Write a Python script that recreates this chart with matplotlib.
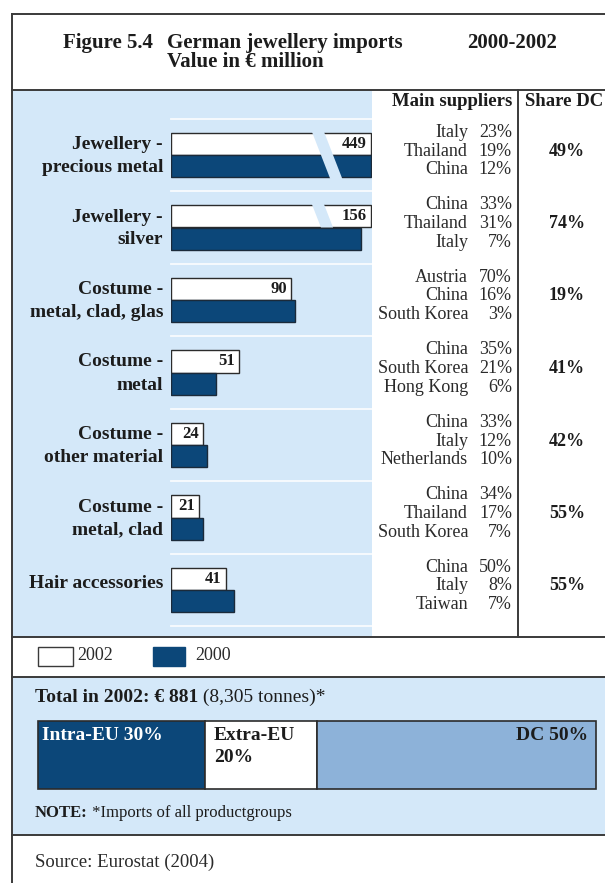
"""German jewellery imports 2000-2002, value in EUR million, with main suppliers."""

import numpy as np
import matplotlib
matplotlib.use('Agg')
from matplotlib import pyplot as plt
from matplotlib.patches import Rectangle, Polygon

plt.rcParams['font.family'] = ['Liberation Serif', 'DejaVu Serif']

categories = ['Jewellery -\nprecious metal', 'Jewellery -\nsilver',
              'Costume -\nmetal, clad, glas', 'Costume -\nmetal',
              'Costume -\nother material', 'Costume -\nmetal, clad',
              'Hair accessories']
imports_2002 = [449, 156, 90, 51, 24, 21, 41]
imports_2000 = [430, 142, 93, 34, 27, 24, 47]
supplier_names = [['Italy', 'Thailand', 'China'],
                  ['China', 'Thailand', 'Italy'],
                  ['Austria', 'China', 'South Korea'],
                  ['China', 'South Korea', 'Hong Kong'],
                  ['China', 'Italy', 'Netherlands'],
                  ['China', 'Thailand', 'South Korea'],
                  ['China', 'Italy', 'Taiwan']]
supplier_shares = [['23%', '19%', '12%'],
                   ['33%', '31%', '7%'],
                   ['70%', '16%', '3%'],
                   ['35%', '21%', '6%'],
                   ['33%', '12%', '10%'],
                   ['34%', '17%', '7%'],
                   ['50%', '8%', '7%']]
share_dc = ['49%', '74%', '19%', '41%', '42%', '55%', '55%']
origin_labels = ['Intra-EU 30%', 'Extra-EU\n20%', 'DC 50%']
origin_shares = [30, 20, 50]

navy = '#0c4779'
panel = '#d4e8f9'
dc_blue = '#8db2d9'
line_c = '#3a3a3a'
ink = '#1c1c1c'

W, H = 605, 883
fig = plt.figure(figsize=(W / 100, H / 100), dpi=100)
ax = fig.add_axes([0, 0, 1, 1])
ax.set_xlim(0, W)
ax.set_ylim(H, 0)
ax.axis('off')


def px_axes(x0, y0, x1, y1):
    """Axes placed by pixel box (top-left origin)."""
    a = fig.add_axes([x0 / W, 1 - y1 / H, (x1 - x0) / W, (y1 - y0) / H])
    a.patch.set_visible(False)
    a.axis('off')
    return a


# background panels and frame
ax.add_patch(Rectangle((12, 89.5), 360, 547, fc=panel, ec='none'))
ax.add_patch(Rectangle((12, 676.5), W - 12, 158.5, fc=panel, ec='none'))
for y in (13.5, 89.5, 636.5, 676.5, 835):
    ax.plot([12, W], [y, y], color=line_c, lw=1.4)
ax.plot([12, 12], [13.5, H], color=line_c, lw=1.4)
ax.plot([518, 518], [89.5, 636.5], color=line_c, lw=1.4)

# header
ax.text(63, 43, 'Figure 5.4', fontsize=15, fontweight='bold', va='center', color=ink)
ax.text(167, 43, 'German jewellery imports', fontsize=15, fontweight='bold',
        va='center', color=ink)
ax.text(167, 62, 'Value in € million', fontsize=15, fontweight='bold',
        va='center', color=ink)
ax.text(467, 43, '2000-2002', fontsize=15, fontweight='bold', va='center', color=ink)
ax.text(392, 101, 'Main suppliers', fontsize=13.5, fontweight='bold', va='center', color=ink)
ax.text(525, 101, 'Share DC', fontsize=13.5, fontweight='bold', va='center', color=ink)

# paired bars
n = len(categories)
row_top, row_h = 118.75, 72.5
bx = px_axes(170.5, row_top, 372, row_top + n * row_h)
bx.set_xlim(0, 150)
bx.set_ylim(n - 0.5, -0.5)
cap = 149.3
h = 0.31
pos = np.arange(n)
for k in range(n + 1):
    bx.axhline(k - 0.5, color='white', lw=1.3, alpha=0.85, clip_on=False)
bx.barh(pos - h / 2, np.minimum(imports_2002, cap), height=h, color='white',
        edgecolor='#2b2b2b', lw=1.0, zorder=2)
bx.barh(pos + h / 2, np.minimum(imports_2000, cap), height=h, color=navy,
        edgecolor='#1b2a3a', lw=1.0, zorder=2)

for i in range(n):
    v = imports_2002[i]
    bx.annotate(str(v), xy=(min(v, cap), i - h / 2), xytext=(-4, 0),
                textcoords='offset pixels', ha='right', va='center',
                fontsize=12, fontweight='bold', color=ink, zorder=5)
    # break mark on bars that run past the scale
    top_cut = imports_2002[i] > cap
    bot_cut = imports_2000[i] > cap
    if top_cut or bot_cut:
        ya = i - h - 0.03 if top_cut else i
        yb = i + h + 0.03 if bot_cut else i
        xl = lambda y: 112 + 21 * (y - i)
        bx.add_patch(Polygon([(xl(ya), ya), (xl(ya) + 9, ya),
                              (xl(yb) + 9, yb), (xl(yb), yb)],
                             fc=panel, ec='none', zorder=4))

# row labels, suppliers and DC share
for i in range(n):
    yc = row_top + (i + 0.5) * row_h
    lines = categories[i].split('\n')
    ys = [yc - 10.5, yc + 12.5] if len(lines) == 2 else [yc - 7]
    for line, y in zip(lines, ys):
        ax.text(163, y, line, ha='right', va='center', fontsize=14,
                fontweight='bold', color=ink)
    for k in range(3):
        y = yc - 4 + (k - 1) * 18.7
        ax.text(468, y, supplier_names[i][k], ha='right', va='center',
                fontsize=13, color='#2a2a2a')
        ax.text(512, y, supplier_shares[i][k], ha='right', va='center',
                fontsize=13, color='#2a2a2a')
    ax.text(567, yc - 4, share_dc[i], ha='center', va='center', fontsize=13,
            fontweight='bold', color=ink)

# legend
ax.add_patch(Rectangle((37.5, 647), 35, 19, fc='white', ec=line_c, lw=1.0))
ax.text(77, 656, '2002', fontsize=13, va='center', color='#2a2a2a')
ax.add_patch(Rectangle((153, 647), 32, 19, fc=navy, ec=navy, lw=1.0))
ax.text(195, 656, '2000', fontsize=13, va='center', color='#2a2a2a')

# total imports by origin
t1 = ax.text(35, 697, 'Total in 2002: € 881', fontsize=14, fontweight='bold',
             va='center', color=ink)
ax.annotate(' (8,305 tonnes)*', xy=(1, 0), xycoords=t1, va='bottom', ha='left',
            fontsize=14, color=ink)

sx = px_axes(37.5, 720.5, 596, 789)
sx.set_xlim(0, 100)
sx.set_ylim(-0.5, 0.5)
lefts = np.cumsum([0] + origin_shares[:-1])
bars = sx.barh(0, origin_shares, left=lefts, height=1,
               color=[navy, 'white', dc_blue], edgecolor='#2b2b2b', lw=1.2)
for b in bars:
    b.set_clip_on(False)
text_cols = ['white', ink, ink]
aligns = ['left', 'left', 'right']
pads = [4, 9, -8]
for lab, left, share, col, al, pad in zip(origin_labels, lefts, origin_shares,
                                          text_cols, aligns, pads):
    x = left if al == 'left' else left + share
    for j, line in enumerate(lab.split('\n')):
        sx.annotate(line, xy=(x, 1), xycoords=('data', 'axes fraction'),
                    xytext=(pad, -15.5 - 22 * j), textcoords='offset pixels',
                    ha=al, va='center', fontsize=14, fontweight='bold', color=col)

t2 = ax.text(35, 813, 'NOTE:', fontsize=12, fontweight='bold', va='center', color=ink)
ax.annotate(' *Imports of all productgroups', xy=(1, 0), xycoords=t2,
            va='bottom', ha='left', fontsize=12, color=ink)

ax.text(35, 862, 'Source: Eurostat (2004)', fontsize=13.5, va='center', color='#2a2a2a')

fig.savefig('out.png', dpi=100)
